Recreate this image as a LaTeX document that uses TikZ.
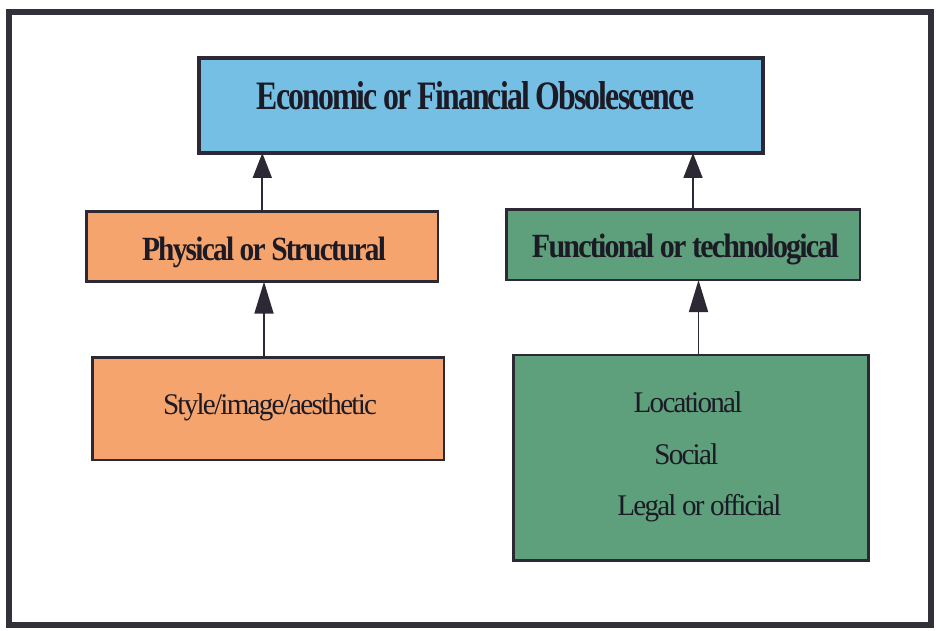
\documentclass[tikz,border=0pt]{standalone}
\usepackage{fontspec}
\setmainfont{Liberation Serif}
\newfontfamily\tightb[LetterSpace=-6]{Liberation Serif}
\newfontfamily\tightr[LetterSpace=-6]{Liberation Serif}
\usetikzlibrary{arrows.meta}
\definecolor{frameC}{HTML}{34303A}
\definecolor{edgeC}{HTML}{2C2834}
\definecolor{txtC}{HTML}{1C1A24}
\definecolor{blueC}{HTML}{74BFE3}
\definecolor{orangeC}{HTML}{F6A46E}
\definecolor{greenC}{HTML}{5E9F7C}
\tikzset{
  boxnode/.style={draw=edgeC, line width=2.6pt, inner sep=0pt, outer sep=0pt},
  bt/.style={text=txtC, inner sep=0pt, anchor=base, font=\tightb\bfseries\fontsize{34}{34}\selectfont},
  rt/.style={text=txtC, inner sep=0pt, anchor=base, font=\tightr\fontsize{30}{30}\selectfont},
  upar/.style={draw=edgeC, line width=1.8pt, -{Triangle[length=#1, width=19pt]}},
}
\begin{document}
\begin{tikzpicture}[x=1pt,y=-1pt]
\useasboundingbox (0,0) rectangle (936,631);
\fill[white] (0,0) rectangle (936,631);
\draw[frameC, line width=6pt] (8.5,12) rectangle (931,625);

\node[boxnode, fill=blueC, line width=3.4pt, minimum width=564pt, minimum height=95pt] (top) at (481,105.5) {};
\node[boxnode, fill=orangeC, minimum width=351.3pt, minimum height=70pt] (phys) at (262.3,246.7) {};
\node[boxnode, fill=greenC, minimum width=353.3pt, minimum height=70.7pt] (func) at (683.3,244.7) {};
\node[boxnode, fill=orangeC, minimum width=351.3pt, minimum height=102.7pt] (style) at (268.3,408.7) {};
\node[boxnode, fill=greenC, minimum width=355pt, minimum height=205.7pt] (loc) at (690.8,457.9) {};

\node[bt, font=\tightb\bfseries\fontsize{40}{40}\selectfont] (ttop) at (476,110) {\resizebox{438pt}{28pt}{Economic or Financial Obsolescence}};
\node[bt] (tphys) at (264,260) {\resizebox{244pt}{23.5pt}{Physical or Structural}};
\node[bt] (tfunc) at (685.5,257.3) {\resizebox{307pt}{23.5pt}{Functional or technological}};
\node[rt] (tstyle) at (270,414) {\scalebox{0.97}[1]{Style/image/aesthetic}};
\node[rt] (tloc) at (688,412.7) {\scalebox{0.97}[1]{Locational}};
\node[rt] (tsoc) at (686.3,464) {\scalebox{0.97}[1]{Social}};
\node[rt] (tleg) at (699.3,515) {\scalebox{0.97}[1]{Legal or official}};

\draw[upar=25pt] (phys.north) -- (phys.north |- top.south);
\draw[upar=25pt] ([xshift=9.7pt]func.north) -- ([xshift=9.7pt]func.north |- top.south);
\draw[upar=32pt] ([xshift=-4.3pt]style.north) -- ([xshift=-4.3pt]style.north |- phys.south);
\draw[upar=32pt] ([xshift=7.7pt]loc.north) -- ([xshift=7.7pt]loc.north |- func.south);
\end{tikzpicture}
\end{document}
